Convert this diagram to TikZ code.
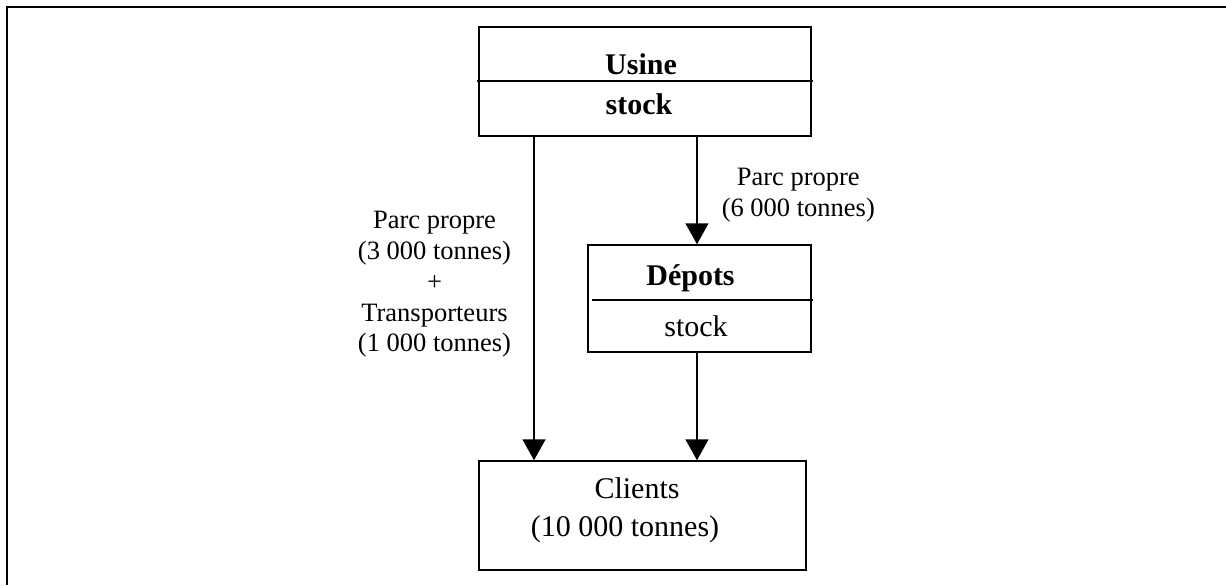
\documentclass[tikz,border=0pt]{standalone}
\usepackage{fontspec}
\setmainfont{Liberation Serif}
\usetikzlibrary{arrows.meta}
\begin{document}
\begin{tikzpicture}[x=0.5pt,y=-0.5pt]
\tikzset{
  boxshape/.style={draw, line width=0.75pt, inner sep=0pt, rectangle},
  arr/.style={line width=0.75pt, -{Triangle[width=11.5pt,length=10.5pt]}},
  boxtxt/.style={font=\fontsize{15}{18}\selectfont, inner sep=0pt, anchor=base},
  boldtxt/.style={boxtxt, font=\fontsize{15}{18}\selectfont\bfseries},
  lbl/.style={font=\fontsize{13.25}{15.4}\selectfont, align=center, inner sep=0pt},
}
\useasboundingbox (0,0) rectangle (1226,585);
% outer frame
\draw[line width=1.15pt] (7.3,585) -- (7.3,7.3) -- (1226,7.3);
% boxes
\node[boxshape, minimum width=166pt, minimum height=54.5pt] (usine) at (645,81.5) {};
\node[boxshape, minimum width=111.5pt, minimum height=53.5pt] (depots) at (699.5,298.5) {};
\node[boxshape, minimum width=163.5pt, minimum height=54.5pt] (clients) at (642.5,515.5) {};
% dividers
\draw[line width=0.75pt] (477,81) -- (813,81);
\draw[line width=0.75pt] (592,300) -- (813,300);
% box texts
\node[boldtxt] (usinet) at (641,74) {Usine};
\node[boldtxt] (usines) at (639,114) {stock};
\node[boldtxt] (depotst) at (690.5,285.5) {Dépots};
\node[boxtxt] (depotss) at (696,336) {stock};
\node[boxtxt] (clientst) at (637,498) {Clients};
\node[boxtxt] (clientsq) at (625,536) {(10 000 tonnes)};
% connector columns
\coordinate (lx) at (534,0);
\coordinate (rx) at (697,0);
\draw[arr] (usine.south -| lx) -- (clients.north -| lx);
\draw[arr] (usine.south -| rx) -- (depots.north -| rx);
\draw[arr] (depots.south -| rx) -- (clients.north -| rx);
% labels
\node[lbl] (lbll) at (434.5,284.5) {Parc propre\\(3 000 tonnes)\\+\\Transporteurs\\(1 000 tonnes)};
\node[lbl] (lblr) at (798.3,195.5) {Parc propre\\(6 000 tonnes)};
\end{tikzpicture}
\end{document}
